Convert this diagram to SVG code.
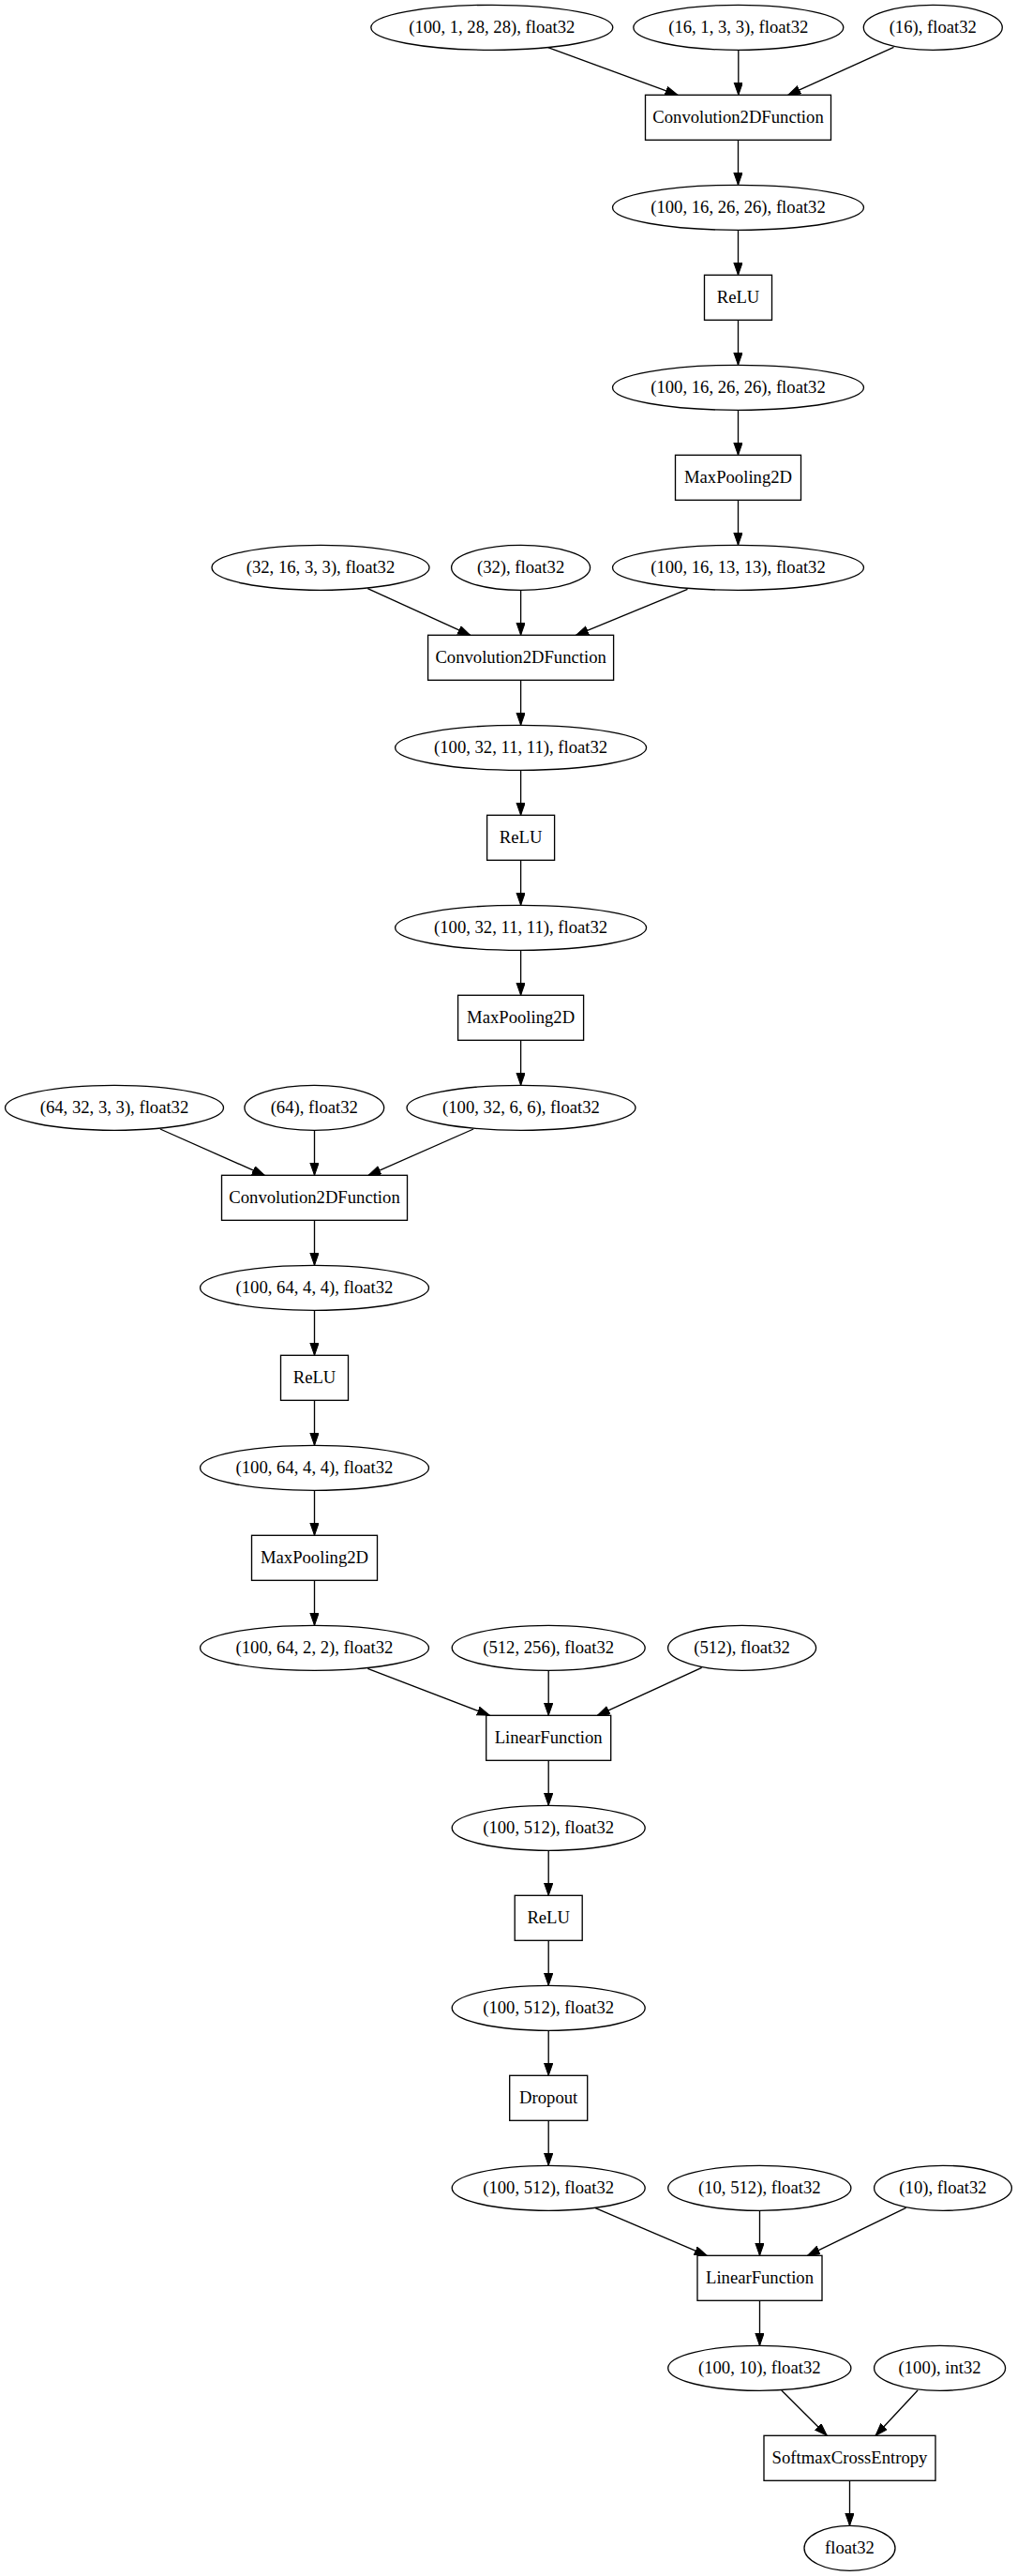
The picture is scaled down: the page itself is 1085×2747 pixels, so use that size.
<svg xmlns="http://www.w3.org/2000/svg" width="1085" height="2747" viewBox="0 0 1085 2747">
<style>
.n ellipse, .n rect { fill: none; stroke: #000; stroke-width: 1.33; }
.n text { font-family: "Liberation Serif", "Times New Roman", serif; font-size: 18.67px; text-anchor: middle; fill: #000; }
#edges line { stroke: #000; stroke-width: 1.33; marker-end: url(#ah); }
</style>
<defs>
<marker id="ah" markerUnits="userSpaceOnUse" markerWidth="14" markerHeight="10" refX="13.33" refY="4.67" orient="auto">
<path d="M0,0 L13.33,4.67 L0,9.33 z" fill="#000" stroke="#000" stroke-width="1"/>
</marker>
</defs>
<rect x="0" y="0" width="1085" height="2747" fill="#fff"/>

<g id="edges">
<line x1="584.7" y1="50.7" x2="723" y2="101.3"/>
<line x1="787.8" y1="53.3" x2="787.8" y2="101.3"/>
<line x1="953.5" y1="50.3" x2="840.7" y2="101.3"/>
<line x1="787.5" y1="149.3" x2="787.5" y2="197.3"/>
<line x1="787.5" y1="245.3" x2="787.5" y2="293.3"/>
<line x1="787.5" y1="341.3" x2="787.5" y2="389.3"/>
<line x1="787.5" y1="437.3" x2="787.5" y2="485.3"/>
<line x1="787.5" y1="533.3" x2="787.5" y2="581.3"/>
<line x1="392.3" y1="627.7" x2="501.7" y2="677.3"/>
<line x1="555.6" y1="629.3" x2="555.6" y2="677.3"/>
<line x1="733.5" y1="628.3" x2="614.5" y2="677.3"/>
<line x1="555.6" y1="725.3" x2="555.6" y2="773.3"/>
<line x1="555.6" y1="821.3" x2="555.6" y2="869.3"/>
<line x1="555.6" y1="917.3" x2="555.6" y2="965.3"/>
<line x1="555.6" y1="1013.3" x2="555.6" y2="1061.3"/>
<line x1="555.6" y1="1109.3" x2="555.6" y2="1157.3"/>
<line x1="170.9" y1="1204" x2="282.3" y2="1253.3"/>
<line x1="335.5" y1="1205.3" x2="335.5" y2="1253.3"/>
<line x1="505.1" y1="1204" x2="393" y2="1253.3"/>
<line x1="335.5" y1="1301.3" x2="335.5" y2="1349.3"/>
<line x1="335.5" y1="1397.3" x2="335.5" y2="1445.3"/>
<line x1="335.5" y1="1493.3" x2="335.5" y2="1541.3"/>
<line x1="335.5" y1="1589.3" x2="335.5" y2="1637.3"/>
<line x1="335.5" y1="1685.3" x2="335.5" y2="1733.3"/>
<line x1="392.3" y1="1779.3" x2="522.4" y2="1829.3"/>
<line x1="585.2" y1="1781.3" x2="585.2" y2="1829.3"/>
<line x1="748.7" y1="1778.3" x2="637.3" y2="1829.3"/>
<line x1="585.2" y1="1877.3" x2="585.2" y2="1925.3"/>
<line x1="585.2" y1="1973.3" x2="585.2" y2="2021.3"/>
<line x1="585.2" y1="2069.3" x2="585.2" y2="2117.3"/>
<line x1="585.2" y1="2165.3" x2="585.2" y2="2213.3"/>
<line x1="585.2" y1="2261.3" x2="585.2" y2="2309.3"/>
<line x1="635.2" y1="2354.7" x2="754.2" y2="2405.3"/>
<line x1="810.5" y1="2357.3" x2="810.5" y2="2405.3"/>
<line x1="966.6" y1="2354.3" x2="861.5" y2="2405.3"/>
<line x1="810.5" y1="2453.3" x2="810.5" y2="2501.3"/>
<line x1="833.8" y1="2549" x2="882.2" y2="2597.3"/>
<line x1="979.1" y1="2549" x2="934.1" y2="2597.3"/>
<line x1="906.5" y1="2645.3" x2="906.5" y2="2693.3"/>
</g>

<g id="n0a" class="n"><ellipse cx="524.8" cy="29.3" rx="129" ry="24"/><text x="524.8" y="34.9">(100, 1, 28, 28), float32</text></g>
<g id="n0b" class="n"><ellipse cx="787.8" cy="29.3" rx="112" ry="24"/><text x="787.8" y="34.9">(16, 1, 3, 3), float32</text></g>
<g id="n0c" class="n"><ellipse cx="995.3" cy="29.3" rx="74" ry="24"/><text x="995.3" y="34.9">(16), float32</text></g>
<g id="n1" class="n"><rect x="688.5" y="101.3" width="198" height="48"/><text x="787.5" y="130.9">Convolution2DFunction</text></g>
<g id="n2" class="n"><ellipse cx="787.5" cy="221.3" rx="134" ry="24"/><text x="787.5" y="226.9">(100, 16, 26, 26), float32</text></g>
<g id="n3" class="n"><rect x="751.5" y="293.3" width="72" height="48"/><text x="787.5" y="322.9">ReLU</text></g>
<g id="n4" class="n"><ellipse cx="787.5" cy="413.3" rx="134" ry="24"/><text x="787.5" y="418.9">(100, 16, 26, 26), float32</text></g>
<g id="n5" class="n"><rect x="720.5" y="485.3" width="134" height="48"/><text x="787.5" y="514.9">MaxPooling2D</text></g>
<g id="n6a" class="n"><ellipse cx="342" cy="605.3" rx="116" ry="24"/><text x="342" y="610.9">(32, 16, 3, 3), float32</text></g>
<g id="n6b" class="n"><ellipse cx="555.6" cy="605.3" rx="74" ry="24"/><text x="555.6" y="610.9">(32), float32</text></g>
<g id="n6c" class="n"><ellipse cx="787.5" cy="605.3" rx="134" ry="24"/><text x="787.5" y="610.9">(100, 16, 13, 13), float32</text></g>
<g id="n7" class="n"><rect x="456.6" y="677.3" width="198" height="48"/><text x="555.6" y="706.9">Convolution2DFunction</text></g>
<g id="n8" class="n"><ellipse cx="555.6" cy="797.3" rx="134" ry="24"/><text x="555.6" y="802.9">(100, 32, 11, 11), float32</text></g>
<g id="n9" class="n"><rect x="519.6" y="869.3" width="72" height="48"/><text x="555.6" y="898.9">ReLU</text></g>
<g id="n10" class="n"><ellipse cx="555.6" cy="989.3" rx="134" ry="24"/><text x="555.6" y="994.9">(100, 32, 11, 11), float32</text></g>
<g id="n11" class="n"><rect x="488.6" y="1061.3" width="134" height="48"/><text x="555.6" y="1090.9">MaxPooling2D</text></g>
<g id="n12a" class="n"><ellipse cx="122" cy="1181.3" rx="116.5" ry="24"/><text x="122" y="1186.9">(64, 32, 3, 3), float32</text></g>
<g id="n12b" class="n"><ellipse cx="335.3" cy="1181.3" rx="74.4" ry="24"/><text x="335.3" y="1186.9">(64), float32</text></g>
<g id="n12c" class="n"><ellipse cx="556" cy="1181.3" rx="122" ry="24"/><text x="556" y="1186.9">(100, 32, 6, 6), float32</text></g>
<g id="n13" class="n"><rect x="236.5" y="1253.3" width="198" height="48"/><text x="335.5" y="1282.9">Convolution2DFunction</text></g>
<g id="n14" class="n"><ellipse cx="335.5" cy="1373.3" rx="122" ry="24"/><text x="335.5" y="1378.9">(100, 64, 4, 4), float32</text></g>
<g id="n15" class="n"><rect x="299.5" y="1445.3" width="72" height="48"/><text x="335.5" y="1474.9">ReLU</text></g>
<g id="n16" class="n"><ellipse cx="335.5" cy="1565.3" rx="122" ry="24"/><text x="335.5" y="1570.9">(100, 64, 4, 4), float32</text></g>
<g id="n17" class="n"><rect x="268.5" y="1637.3" width="134" height="48"/><text x="335.5" y="1666.9">MaxPooling2D</text></g>
<g id="n18a" class="n"><ellipse cx="335.5" cy="1757.3" rx="122" ry="24"/><text x="335.5" y="1762.9">(100, 64, 2, 2), float32</text></g>
<g id="n18b" class="n"><ellipse cx="585.2" cy="1757.3" rx="103" ry="24"/><text x="585.2" y="1762.9">(512, 256), float32</text></g>
<g id="n18c" class="n"><ellipse cx="791.6" cy="1757.3" rx="79" ry="24"/><text x="791.6" y="1762.9">(512), float32</text></g>
<g id="n19" class="n"><rect x="518.7" y="1829.3" width="133" height="48"/><text x="585.2" y="1858.9">LinearFunction</text></g>
<g id="n20" class="n"><ellipse cx="585.2" cy="1949.3" rx="103" ry="24"/><text x="585.2" y="1954.9">(100, 512), float32</text></g>
<g id="n21" class="n"><rect x="549.2" y="2021.3" width="72" height="48"/><text x="585.2" y="2050.9">ReLU</text></g>
<g id="n22" class="n"><ellipse cx="585.2" cy="2141.3" rx="103" ry="24"/><text x="585.2" y="2146.9">(100, 512), float32</text></g>
<g id="n23" class="n"><rect x="543.7" y="2213.3" width="83" height="48"/><text x="585.2" y="2242.9">Dropout</text></g>
<g id="n24a" class="n"><ellipse cx="585.2" cy="2333.3" rx="103" ry="24"/><text x="585.2" y="2338.9">(100, 512), float32</text></g>
<g id="n24b" class="n"><ellipse cx="810.3" cy="2333.3" rx="97.6" ry="24"/><text x="810.3" y="2338.9">(10, 512), float32</text></g>
<g id="n24c" class="n"><ellipse cx="1006" cy="2333.3" rx="73.4" ry="24"/><text x="1006" y="2338.9">(10), float32</text></g>
<g id="n25" class="n"><rect x="744" y="2405.3" width="133" height="48"/><text x="810.5" y="2434.9">LinearFunction</text></g>
<g id="n26a" class="n"><ellipse cx="810.3" cy="2525.3" rx="97.6" ry="24"/><text x="810.3" y="2530.9">(100, 10), float32</text></g>
<g id="n26b" class="n"><ellipse cx="1002.6" cy="2525.3" rx="70" ry="24"/><text x="1002.6" y="2530.9">(100), int32</text></g>
<g id="n27" class="n"><rect x="815" y="2597.3" width="183" height="48"/><text x="906.5" y="2626.9">SoftmaxCrossEntropy</text></g>
<g id="n28" class="n"><ellipse cx="906.5" cy="2717.3" rx="48.5" ry="24"/><text x="906.5" y="2722.9">float32</text></g>
</svg>
